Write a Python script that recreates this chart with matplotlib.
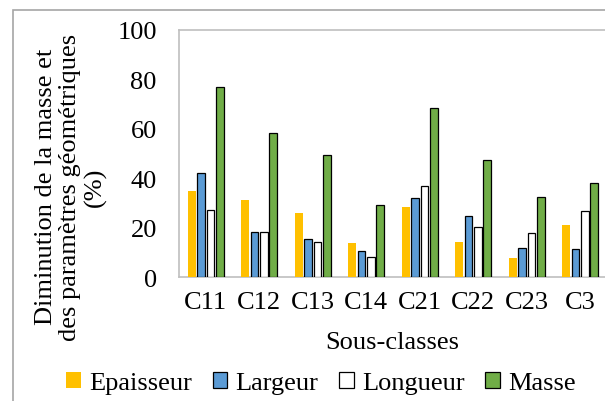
import numpy as np
import matplotlib
matplotlib.use('Agg')
import matplotlib.pyplot as plt
from matplotlib.patches import Rectangle

plt.rcParams['font.family'] = ['Liberation Serif', 'DejaVu Serif']

categories = ['C11', 'C12', 'C13', 'C14', 'C21', 'C22', 'C23', 'C3']
epaisseur = [35.0, 31.2, 25.8, 14.0, 28.4, 14.4, 7.7, 21.0]
largeur = [42.2, 18.4, 15.5, 10.6, 31.9, 24.8, 12.0, 11.6]
longueur = [27.3, 18.4, 14.3, 8.2, 37.0, 20.4, 17.8, 26.9]
masse = [76.9, 58.4, 49.4, 29.2, 68.3, 47.5, 32.3, 38.0]

series = [
    ('Epaisseur', epaisseur, '#FFC000', 'none'),
    ('Largeur', largeur, '#5B9BD5', 'black'),
    ('Longueur', longueur, 'white', 'black'),
    ('Masse', masse, '#70AD47', 'black'),
]

W, H = 605, 402
FS = 19
fig = plt.figure(figsize=(W / 100, H / 100), dpi=100)

# plot area in pixels: left 179, right ~607, top 31, bottom 278
ax = fig.add_axes([179 / W, 1 - 278.3 / H, 428 / W, (278.3 - 30.7) / H])

x = np.arange(len(categories))
step = 0.174
width = 0.145
for i, (name, vals, color, edge) in enumerate(series):
    off = (i - 1.5) * step
    ax.bar(x + off, vals, width, color=color, edgecolor=edge,
           linewidth=0.9 if edge != 'none' else 0, label=name, zorder=3)

ax.set_xlim(-0.5, len(categories) - 0.5)
ax.set_ylim(0, 100)
ax.set_yticks(np.arange(0, 101, 20))
ax.set_xticks(x)
ax.set_xticklabels(categories)
ax.tick_params(axis='both', length=0, labelsize=FS)
ax.tick_params(axis='y', pad=16)
ax.tick_params(axis='x', pad=10)
for sp in ax.spines.values():
    sp.set_color('#BFBFBF')
    sp.set_linewidth(1.2)

fig.text(392 / W, 1 - 349 / H, 'Sous-classes', ha='center', va='baseline', fontsize=FS)
fig.text(71 / W, 1 - 187 / H,
         'Diminution de la masse et\ndes paramètres géométriques\n(%)',
         rotation=90, ha='center', va='center', fontsize=FS,
         multialignment='center', linespacing=1.15)

handles, labels = ax.get_legend_handles_labels()
leg = fig.legend(handles, labels, loc='center', bbox_to_anchor=(321 / W, 1 - 384 / H),
                 ncol=4, frameon=False, fontsize=FS, handlelength=0.55,
                 handleheight=0.55, handletextpad=0.3, columnspacing=0.8,
                 borderpad=0, borderaxespad=0)

# outer chart border
fig.patches.append(Rectangle((12.7 / W, -0.1), 1.2, 1 - 11 / H + 0.1,
                             transform=fig.transFigure, fill=False,
                             edgecolor='#A6A6A6', linewidth=1.2))

fig.savefig('out.png', dpi=100)
